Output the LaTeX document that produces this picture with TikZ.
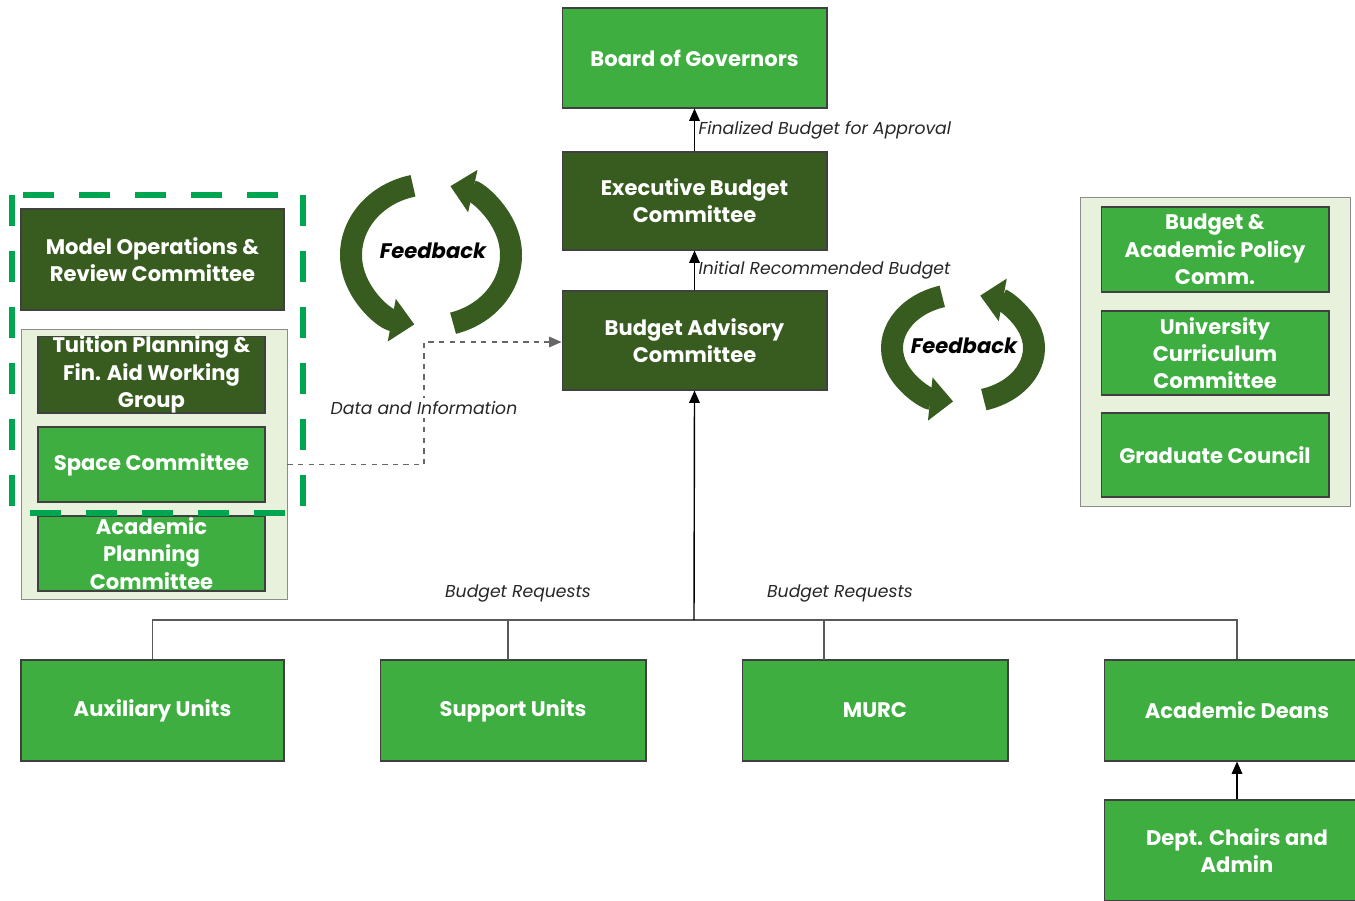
\documentclass[tikz,border=0pt]{standalone}
\usepackage{fontspec}
\setmainfont{Poppins}
\usetikzlibrary{arrows.meta,calc}

\definecolor{lgreen}{HTML}{3DAE3F}
\definecolor{dgreen}{HTML}{385C1F}
\definecolor{panelgreen}{HTML}{E7F1DC}
\definecolor{framegreen}{HTML}{00A54F}

\begin{document}
\begin{tikzpicture}[x=0.02cm,y=-0.02cm,
  box/.style={draw=black!75,line width=0.6pt,text=white,align=center,inner sep=0pt,
    font=\fontsize{12}{15.5}\selectfont\bfseries},
  lbox/.style={box,fill=lgreen},
  dbox/.style={box,fill=dgreen},
  panel/.style={draw=black!45,line width=0.5pt,fill=panelgreen,inner sep=0pt},
  note/.style={font=\fontsize{9.8}{12}\selectfont\itshape,text=black!85,inner sep=2pt},
  conn/.style={draw=black!65,line width=0.6pt},
  arr/.style={line width=0.8pt,-{Triangle[width=6pt,length=7pt]}},
  fbarrow/.style={dgreen,line width=0.44cm,-{Triangle[width=0.84cm,length=0.46cm]}},
  fbtext/.style={font=\fontsize{12}{15}\selectfont\bfseries\itshape}]

\path[use as bounding box,clip] (0,0) rectangle (1355,900);

% top column
\node[lbox,minimum width=5.3cm,minimum height=2cm] (bog) at (694.5,58) {Board of Governors};
\node[dbox,minimum width=5.3cm,minimum height=1.96cm] (ebc) at (694.5,201) {Executive Budget\\Committee};
\node[dbox,minimum width=5.3cm,minimum height=1.98cm] (bac) at (694.5,340.5) {Budget Advisory\\Committee};
\draw[arr] (ebc.north) -- (bog.south) node[midway,right,note] {Finalized Budget for Approval};
\draw[arr] (bac.north) -- (ebc.south) node[midway,right,note] {Initial Recommended Budget};

% left group
\node[panel,minimum width=5.32cm,minimum height=5.4cm] (lpanel) at (154,464) {};
\node[dbox,minimum width=5.26cm,minimum height=2.02cm] (mor) at (152.5,259.5) {Model Operations \&\\Review Committee};
\node[dbox,minimum width=4.54cm,minimum height=1.5cm] (tpf) at (151.5,374.5) {Tuition Planning \&\\Fin. Aid Working\\Group};
\node[lbox,minimum width=4.54cm,minimum height=1.5cm] (spc) at (151.5,464.5) {Space Committee};
\node[lbox,minimum width=4.54cm,minimum height=1.5cm] (apc) at (151.5,553.5) {Academic\\Planning\\Committee};

% data line
\coordinate (dturn) at (424,342);
\draw[black!60,line width=0.6pt,dashed,-{Triangle[width=6pt,length=7pt]}] (spc.east -| lpanel.east) -| (dturn) -- (dturn -| bac.west);
\node[note,fill=white] (dinfo) at (424,408) {Data and Information};

\draw[framegreen,line width=3.4pt,dash pattern=on 0.62cm off 0.5cm] (12,195) rectangle (303,513);

% right group
\node[panel,minimum width=5.4cm,minimum height=6.18cm] (rpanel) at (1215,351.5) {};
\node[lbox,minimum width=4.56cm,minimum height=1.7cm] (bap) at (1215,249.5) {Budget \&\\Academic Policy\\Comm.};
\node[lbox,minimum width=4.56cm,minimum height=1.68cm] (ucc) at (1215,353) {University\\Curriculum\\Committee};
\node[lbox,minimum width=4.56cm,minimum height=1.68cm] (gc) at (1215,455) {Graduate Council};

% feedback loops
\node[fbtext] (fbl) at (433,251) {Feedback};
\coordinate (fblc) at (431,255);
\draw[fbarrow] ($(fblc)+(103:1.6cm and 1.42cm)$) arc[start angle=103,end angle=258,x radius=1.6cm,y radius=1.42cm];
\draw[fbarrow] ($(fblc)+(286:1.6cm and 1.42cm)$) arc[start angle=286,end angle=436,x radius=1.6cm,y radius=1.42cm];

\node[fbtext] (fbr) at (964,346) {Feedback};
\coordinate (fbrc) at (963,348);
\draw[fbarrow] ($(fbrc)+(107:1.42cm and 1.08cm)$) arc[start angle=107,end angle=262,x radius=1.42cm,y radius=1.08cm];
\draw[fbarrow] ($(fbrc)+(287:1.42cm and 1.08cm)$) arc[start angle=287,end angle=436,x radius=1.42cm,y radius=1.08cm];

% bottom row
\node[lbox,minimum width=5.26cm,minimum height=2.02cm] (aux) at (152.5,710.5) {Auxiliary Units};
\node[lbox,minimum width=5.32cm,minimum height=2.02cm] (sup) at (513,710.5) {Support Units};
\node[lbox,minimum width=5.32cm,minimum height=2.02cm] (murc) at (875,710.5) {MURC};
\node[lbox,minimum width=5.32cm,minimum height=2.02cm] (dean) at (1237,710.5) {Academic Deans};
\node[lbox,minimum width=5.32cm,minimum height=2.02cm] (dca) at (1237,850.5) {Dept. Chairs and\\Admin};
\draw[arr] (dca.north) -- (dean.south);

\coordinate (bus) at (694,620);
\coordinate (dsup) at (508,660);
\coordinate (dmurc) at (824,660);
\draw[conn] (aux.north) -- (aux.north |- bus) -- (dean.north |- bus) -- (dean.north);
\draw[conn] (dsup) -- (dsup |- bus);
\draw[conn] (dmurc) -- (dmurc |- bus);
\draw[arr] (bus) -- (bac.south);
\node[note] (breq1) at (518,593) {Budget Requests};
\node[note] (breq2) at (840,593) {Budget Requests};
\end{tikzpicture}
\end{document}
